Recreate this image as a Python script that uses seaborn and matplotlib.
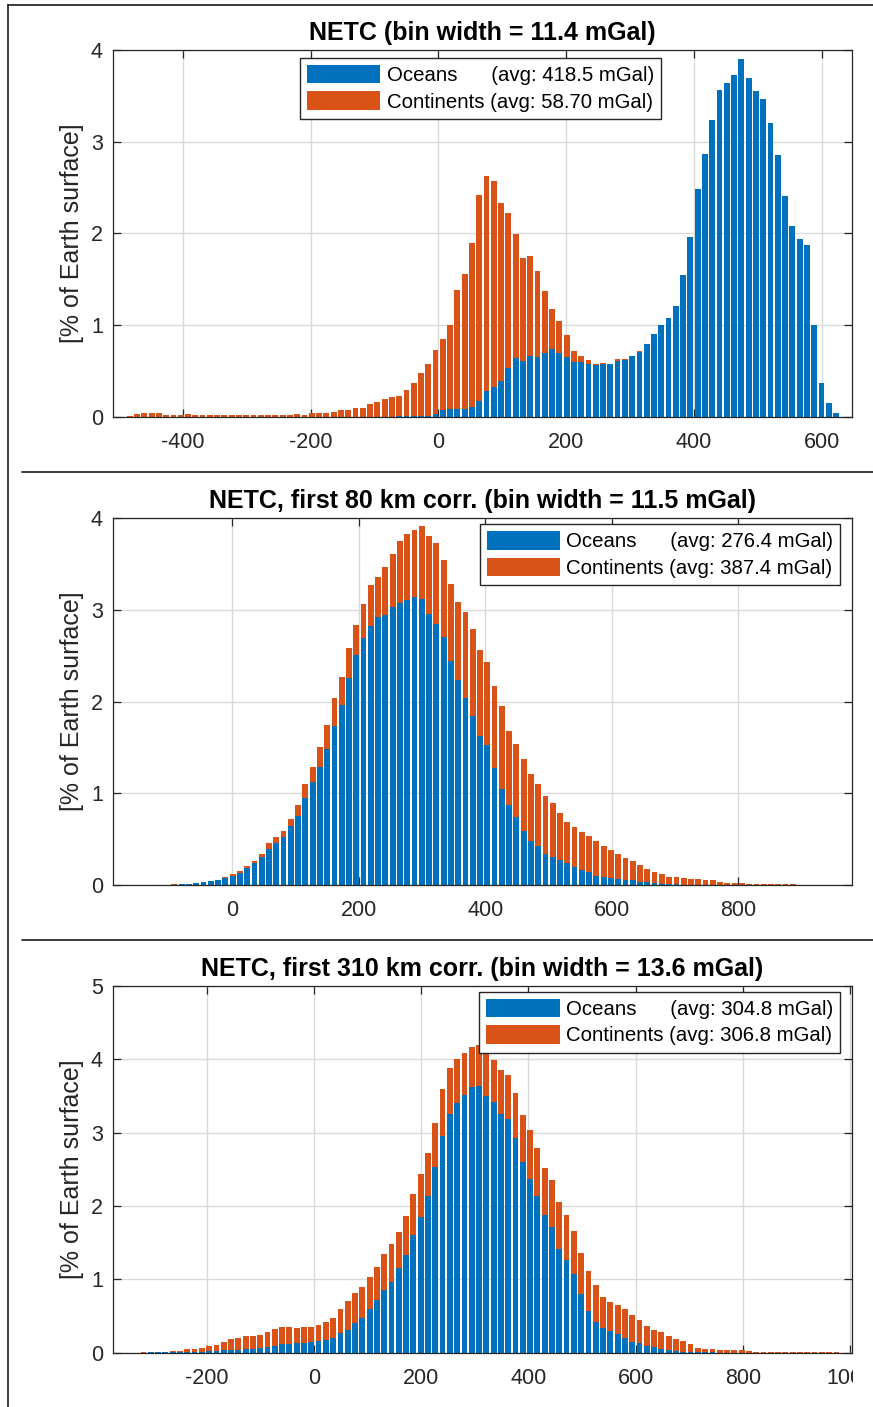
import numpy as np
import pandas as pd
import matplotlib
matplotlib.use("Agg")
import matplotlib.pyplot as plt
import seaborn as sns
from matplotlib.patches import Patch
from matplotlib.lines import Line2D
from matplotlib.transforms import Bbox, TransformedBbox

sns.set_theme(style="white")
plt.rcParams["font.family"] = ["Liberation Sans", "DejaVu Sans"]

OCEAN_COLOR = "#0072BD"
CONT_COLOR = "#D95319"

# ---------------- NETC ----------------
netc_title = "NETC (bin width = 11.4 mGal)"
netc_first_center = -483.3
netc_bin_width = 11.4
netc_oceans = [
    0, 0, 0, 0, 0, 0, 0, 0, 0, 0,
    0, 0, 0, 0, 0, 0, 0, 0, 0, 0,
    0, 0, 0, 0, 0, 0, 0, 0, 0, 0,
    0, 0, 0, 0, 0, 0, 0.002, 0.004, 0.006, 0.008,
    0.01, 0.01, 0.03, 0.07, 0.08, 0.08, 0.08, 0.11, 0.17, 0.28,
    0.32, 0.39, 0.53, 0.64, 0.61, 0.66, 0.65, 0.69, 0.74, 0.70,
    0.65, 0.60, 0.60, 0.58, 0.56, 0.575, 0.575, 0.61, 0.62, 0.66,
    0.71, 0.79, 0.90, 1.00, 1.08, 1.21, 1.55, 1.96, 2.48, 2.87,
    3.24, 3.56, 3.64, 3.73, 3.90, 3.70, 3.55, 3.47, 3.20, 2.86,
    2.41, 2.08, 1.94, 1.87, 1.00, 0.37, 0.15, 0.04,
]
netc_continents = [
    0.01, 0.025, 0.035, 0.035, 0.035, 0.02, 0.02, 0.02, 0.03, 0.02,
    0.015, 0.015, 0.015, 0.015, 0.015, 0.015, 0.015, 0.015, 0.015, 0.015,
    0.015, 0.015, 0.02, 0.03, 0.02, 0.045, 0.045, 0.045, 0.055, 0.07,
    0.07, 0.10, 0.10, 0.135, 0.156, 0.189, 0.208, 0.221, 0.284, 0.362,
    0.47, 0.57, 0.70, 0.78, 0.92, 1.30, 1.48, 1.79, 2.25, 2.35,
    2.25, 1.94, 1.69, 1.35, 1.12, 1.09, 0.94, 0.68, 0.43, 0.34,
    0.24, 0.12, 0.06, 0.04, 0.02, 0.015, 0.005, 0.015, 0.005, 0.003,
    0.002, 0.002, 0.002, 0.002, 0.002, 0.002, 0, 0, 0, 0,
    0, 0, 0, 0, 0, 0, 0, 0, 0, 0,
    0, 0, 0, 0, 0, 0, 0, 0,
]
netc_avg = [418.5, 58.70]
netc_xticks = [-400, -200, 0, 200, 400, 600]
netc_yticks = [0, 1, 2, 3, 4]

# ---------------- NETC, first 80 km corrected ----------------
c80_title = "NETC, first 80 km corr. (bin width = 11.5 mGal)"
c80_first_center = -126.0
c80_bin_width = 11.5
c80_oceans = [
    0.001, 0.002, 0.003, 0.005, 0.008, 0.011, 0.018, 0.03, 0.04, 0.052,
    0.073, 0.10, 0.135, 0.18, 0.236, 0.30, 0.39, 0.46, 0.52, 0.64,
    0.75, 0.95, 1.12, 1.29, 1.48, 1.73, 1.96, 2.26, 2.51, 2.69,
    2.83, 2.92, 2.95, 3.03, 3.08, 3.11, 3.14, 3.12, 2.96, 2.85,
    2.70, 2.44, 2.24, 2.04, 1.84, 1.63, 1.53, 1.28, 1.05, 0.876,
    0.74, 0.59, 0.48, 0.42, 0.34, 0.305, 0.276, 0.24, 0.20, 0.167,
    0.145, 0.10, 0.09, 0.076, 0.062, 0.058, 0.055, 0.036, 0.033, 0.022,
    0.015, 0.011, 0.008, 0.005, 0.004, 0.003, 0.002, 0.002, 0.001, 0.001,
    0, 0, 0, 0, 0, 0, 0, 0, 0, 0, 0, 0, 0, 0, 0,
]
c80_continents = [
    0.002, 0.002, 0.002, 0.002, 0.003, 0.004, 0.007, 0.003, 0.004, 0.006,
    0.011, 0.016, 0.018, 0.027, 0.029, 0.04, 0.065, 0.06, 0.065, 0.08,
    0.12, 0.15, 0.17, 0.21, 0.26, 0.31, 0.31, 0.32, 0.33, 0.37,
    0.44, 0.44, 0.52, 0.58, 0.67, 0.72, 0.73, 0.80, 0.85, 0.88,
    0.85, 0.84, 0.85, 0.94, 0.95, 0.93, 0.90, 0.89, 0.90, 0.804,
    0.80, 0.78, 0.73, 0.685, 0.635, 0.585, 0.504, 0.45, 0.433, 0.408,
    0.385, 0.38, 0.335, 0.304, 0.273, 0.232, 0.205, 0.184, 0.142, 0.123,
    0.101, 0.079, 0.076, 0.068, 0.065, 0.059, 0.056, 0.049, 0.035, 0.024,
    0.022, 0.018, 0.015, 0.011, 0.008, 0.007, 0.007, 0.006, 0.006, 0.005,
    0.005, 0.004, 0.004, 0.003, 0.003,
]
c80_avg = [276.4, 387.4]
c80_xticks = [0, 200, 400, 600, 800]
c80_yticks = [0, 1, 2, 3, 4]

# ---------------- NETC, first 310 km corrected ----------------
c310_title = "NETC, first 310 km corr. (bin width = 13.6 mGal)"
c310_first_center = -317.6
c310_bin_width = 13.6
c310_oceans = [
    0.002, 0.003, 0.004, 0.004, 0.005, 0.009, 0.009, 0.014, 0.014, 0.018,
    0.023, 0.032, 0.036, 0.041, 0.045, 0.05, 0.068, 0.082, 0.095, 0.114,
    0.123, 0.127, 0.127, 0.14, 0.155, 0.173, 0.195, 0.264, 0.31, 0.40,
    0.47, 0.59, 0.72, 0.86, 0.97, 1.15, 1.33, 1.60, 1.85, 2.14,
    2.53, 2.96, 3.25, 3.40, 3.52, 3.62, 3.63, 3.50, 3.42, 3.26,
    3.18, 2.93, 2.60, 2.37, 2.13, 1.88, 1.71, 1.42, 1.26, 1.07,
    0.80, 0.575, 0.425, 0.34, 0.30, 0.26, 0.205, 0.15, 0.136, 0.095,
    0.073, 0.045, 0.032, 0.018, 0.014, 0.01, 0.005, 0.004, 0.003, 0.002,
    0.002, 0.001, 0.001, 0, 0, 0, 0, 0, 0, 0,
    0, 0, 0, 0, 0, 0,
]
c310_continents = [
    0.001, 0.002, 0.005, 0.005, 0.013, 0.018, 0.036, 0.036, 0.054, 0.072,
    0.082, 0.118, 0.144, 0.159, 0.178, 0.177, 0.168, 0.198, 0.225, 0.236,
    0.227, 0.209, 0.223, 0.21, 0.225, 0.247, 0.282, 0.331, 0.395, 0.41,
    0.43, 0.44, 0.45, 0.485, 0.51, 0.495, 0.54, 0.56, 0.58, 0.58,
    0.60, 0.63, 0.63, 0.61, 0.56, 0.55, 0.56, 0.60, 0.57, 0.60,
    0.61, 0.61, 0.64, 0.66, 0.66, 0.64, 0.65, 0.63, 0.62, 0.59,
    0.56, 0.535, 0.495, 0.415, 0.395, 0.39, 0.39, 0.36, 0.304, 0.269,
    0.241, 0.241, 0.195, 0.172, 0.141, 0.108, 0.063, 0.051, 0.052, 0.039,
    0.034, 0.031, 0.035, 0.023, 0.015, 0.012, 0.010, 0.009, 0.008, 0.007,
    0.006, 0.005, 0.004, 0.004, 0.003, 0.003,
]
c310_avg = [304.8, 306.8]
c310_xticks = [-200, 0, 200, 400, 600, 800, 1000]
c310_yticks = [0, 1, 2, 3, 4, 5]

series_names = ["Oceans", "Continents"]
ylabel_text = "[% of Earth surface]"

W, H = 873, 1407
fig = plt.figure(figsize=(W / 100, H / 100), dpi=100)
fig.patch.set_facecolor("white")


def px_axes(left, top, right, bottom):
    return fig.add_axes([left / W, 1 - bottom / H, (right - left) / W, (bottom - top) / H])


def draw_panel(ax, title, first_center, bin_width, oceans, continents, avg,
               xlim, xticks, yticks, legend_loc, legend_anchor):
    oceans = np.asarray(oceans, dtype=float)
    continents = np.asarray(continents, dtype=float)
    centers = first_center + bin_width * np.arange(len(oceans))
    edges = np.append(centers - bin_width / 2, centers[-1] + bin_width / 2).tolist()
    df = pd.DataFrame({"gravity": centers, "oceans": oceans,
                       "total": oceans + continents})

    # stacked bars: full stack in orange, oceans drawn over the lower part
    sns.histplot(data=df, x="gravity", weights="total", bins=edges,
                 color=CONT_COLOR, alpha=1, linewidth=0, shrink=0.8, ax=ax)
    sns.histplot(data=df, x="gravity", weights="oceans", bins=edges,
                 color=OCEAN_COLOR, alpha=1, linewidth=0, shrink=0.8, ax=ax)

    ax.set_xlim(*xlim)
    ax.set_ylim(yticks[0], yticks[-1])
    ax.set_xticks(xticks)
    ax.set_yticks(yticks)
    ax.set_xticklabels([f"{t:g}" for t in xticks])
    ax.set_yticklabels([f"{t:g}" for t in yticks])
    ax.set_xlabel("")
    ax.set_ylabel(ylabel_text, fontsize=18, color="#262626", labelpad=5)
    ax.set_title(title, fontsize=18, fontweight="bold", color="black", pad=7.5)

    ax.set_axisbelow(True)
    ax.grid(True, color="#dadada", linewidth=1.0)
    ax.tick_params(axis="both", direction="in", length=6, width=0.9,
                   colors="#262626", labelsize=15.5,
                   bottom=True, top=True, left=True, right=True)
    ax.tick_params(axis="x", pad=11)
    ax.tick_params(axis="y", pad=7)
    for sp in ax.spines.values():
        sp.set_visible(True)
        sp.set_color("#262626")
        sp.set_linewidth(0.9)

    handles = [Patch(facecolor=OCEAN_COLOR, edgecolor="none"),
               Patch(facecolor=CONT_COLOR, edgecolor="none")]
    labels = [f"{series_names[0]}      (avg: {avg[0]:#.4g} mGal)",
              f"{series_names[1]} (avg: {avg[1]:#.4g} mGal)"]
    leg = ax.legend(handles, labels, loc=legend_loc, bbox_to_anchor=legend_anchor,
                    borderaxespad=0, fontsize=14.7, frameon=True, fancybox=False,
                    framealpha=1, edgecolor="#262626", handlelength=3.6,
                    handleheight=1.0, handletextpad=0.3, labelspacing=0.3,
                    borderpad=0.35)
    leg.get_frame().set_linewidth(1.0)
    for t in leg.get_texts():
        t.set_color("black")


ax1 = px_axes(112.7, 50.0, 852.3, 416.7)
draw_panel(ax1, netc_title, netc_first_center, netc_bin_width, netc_oceans,
           netc_continents, netc_avg, (-510, 648), netc_xticks, netc_yticks,
           "upper left", (0.253, 0.978))

ax2 = px_axes(112.7, 518.3, 852.3, 885.0)
draw_panel(ax2, c80_title, c80_first_center, c80_bin_width, c80_oceans,
           c80_continents, c80_avg, (-189, 980), c80_xticks, c80_yticks,
           "upper right", (0.984, 0.984))

ax3 = px_axes(112.7, 986.0, 852.3, 1352.7)
draw_panel(ax3, c310_title, c310_first_center, c310_bin_width, c310_oceans,
           c310_continents, c310_avg, (-375, 1004), c310_xticks, c310_yticks,
           "upper right", (0.984, 0.984))

# tick labels of the last panel are cut at the right edge of its box
clip = TransformedBbox(Bbox.from_extents(0, 0, 852.5 / W, 1), fig.transFigure)
for lbl in ax3.get_xticklabels():
    lbl.set_clip_on(True)
    lbl.set_clip_box(clip)

# page frame and separators between the panels
frame_kw = dict(transform=fig.transFigure, color="#1a1a1a", linewidth=1.2)
fig.add_artist(Line2D([8 / W, 1], [1 - 5 / H, 1 - 5 / H], **frame_kw))
fig.add_artist(Line2D([8 / W, 8 / W], [0, 1 - 5 / H], **frame_kw))
fig.add_artist(Line2D([22 / W, 1], [1 - 472 / H, 1 - 472 / H], **frame_kw))
fig.add_artist(Line2D([22 / W, 1], [1 - 940 / H, 1 - 940 / H], **frame_kw))

fig.savefig("out.png", dpi=100, facecolor="white")
